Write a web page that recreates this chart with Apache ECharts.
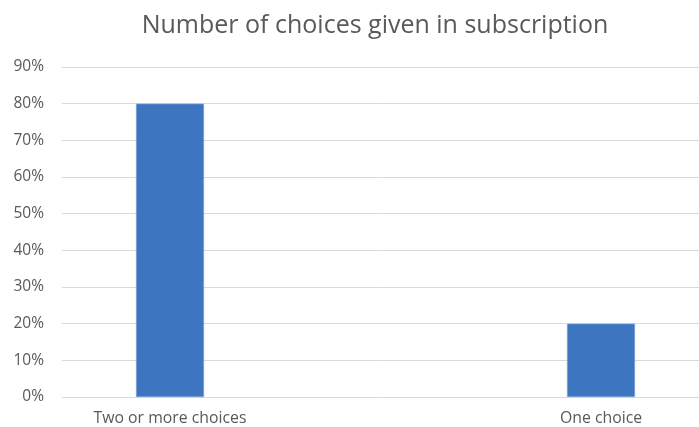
<!DOCTYPE html>
<html><head><meta charset="utf-8">
<script src="https://cdn.jsdelivr.net/npm/echarts@6/dist/echarts.min.js"></script>
<style>html,body{margin:0;padding:0;background:#fff}#c{width:699px;height:427px}</style>
</head><body><div id="c"></div>
<script>
const titleText = 'Number of choices given in subscription';
const categories = ['Two or more choices', 'One choice'];
const values = [0.80, 0.20];
const yTicks = [0, 0.1, 0.2, 0.3, 0.4, 0.5, 0.6, 0.7, 0.8, 0.9];

const font = 'Open Sans';
const chart = echarts.init(document.getElementById('c'));
chart.setOption({
  animation: false,
  title: { text: titleText, left: 370, textAlign: 'center', top: 8,
    textStyle: { fontFamily: font, fontSize: 25, fontWeight: 'normal', color: '#595959' } },
  grid: [
    { left: 62, right: 0, top: 67, bottom: 30 },
    { left: 170, right: 98, top: 67, bottom: 30 }
  ],
  xAxis: [
    { gridIndex: 0, type: 'value', show: false, min: 0, max: 1 },
    { gridIndex: 1, type: 'category', data: categories, boundaryGap: false,
      axisLine: { show: false }, axisTick: { show: false },
      axisLabel: { fontFamily: font, fontSize: 15.8, color: '#595959', margin: 13 } }
  ],
  yAxis: [
    { gridIndex: 0, type: 'value', min: yTicks[0], max: yTicks[yTicks.length - 1], interval: 0.1,
      axisLine: { show: false }, axisTick: { show: false },
      splitLine: { lineStyle: { color: '#d9d9d9', width: 1 } },
      axisLabel: { fontFamily: font, fontSize: 15.5, color: '#595959', margin: 18,
        formatter: v => Math.round(v * 100) + '%' } },
    { gridIndex: 1, type: 'value', min: yTicks[0], max: yTicks[yTicks.length - 1], interval: 0.1, show: false }
  ],
  series: [{
    type: 'bar', xAxisIndex: 1, yAxisIndex: 1, data: values, barWidth: 68,
    itemStyle: { color: '#3E75C1', borderColor: '#7FA3D8', borderWidth: 0.6 }
  }]
});
</script></body></html>
